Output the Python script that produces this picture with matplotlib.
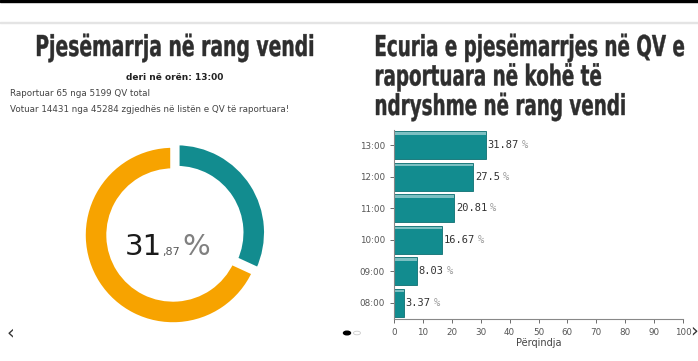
import numpy as np
import matplotlib.pyplot as plt
from matplotlib.patches import Rectangle, Circle, PathPatch
from matplotlib.textpath import TextPath
from matplotlib.font_manager import FontProperties
from matplotlib.transforms import Affine2D

hours = ['08:00', '09:00', '10:00', '11:00', '12:00', '13:00']
turnout = [3.37, 8.03, 16.67, 20.81, 27.5, 31.87]
current = 31.87
reported_qv = 65
total_qv = 5199
voted = 14431
registered = 45284

W, H = 698, 361
teal = '#128c8f'
orange = '#f7a300'
title_col = '#2e2e2e'

fig = plt.figure(figsize=(W / 100, H / 100), dpi=100)


def px(x, y):
    return x / W, 1 - y / H


def ftext(x, y, s, **kw):
    fig.text(*px(x, y), s, **kw)


# condensed heavy title text, drawn as paths so it can be squeezed like Impact
bold = FontProperties(family='DejaVu Sans', weight='bold')
cap = TextPath((0, 0), 'H', size=100, prop=bold).get_extents().height


def title(x, baseline, s, cap_px, xscale):
    tp = TextPath((0, 0), s, size=100, prop=bold)
    k = cap_px / cap
    ext = tp.get_extents()
    tr = Affine2D().translate(-ext.x0, 0).scale(k * xscale, k).translate(x, H - baseline)
    fig.add_artist(PathPatch(tp, transform=tr, facecolor=title_col, edgecolor=title_col,
                             linewidth=0.3))


def squeeze(s, width_px, cap_px):
    ext = TextPath((0, 0), s, size=100, prop=bold).get_extents()
    return width_px / (ext.width * cap_px / cap)


# page lines
fig.add_artist(Rectangle((0, 1 - 2 / H), 1, 2 / H, transform=fig.transFigure, color='black'))
fig.add_artist(Rectangle((0, 1 - 23 / H), 1, 1 / H, transform=fig.transFigure, color='#e4e4e4'))

# left panel texts
lt = 'Pjesëmarrja në rang vendi'
title(37, 56, lt, 21, squeeze(lt, 276, 21))
ftext(175, 77, 'deri në orën: 13:00', ha='center', va='center', fontsize=6.5,
      fontweight='bold', color='#222222')
ftext(10, 93, 'Raportuar %d nga %d QV total' % (reported_qv, total_qv), ha='left', va='center',
      fontsize=6.3, color='#444444')
ftext(10, 109, 'Votuar %d nga %d zgjedhës në listën e QV të raportuara!' % (voted, registered),
      ha='left', va='center', fontsize=6.3, color='#444444')

# right panel title
rt = ['Ecuria e pjesëmarrjes në QV e', 'raportuara në kohë të', 'ndryshme në rang vendi']
xs = squeeze(rt[0], 308, 21)
for i, line in enumerate(rt):
    title(376, 56 + i * 29.5, line, 21, xs)

# donut
cx, cy, rad = 173, 235, 90
half = 100
ax1 = fig.add_axes([(cx - half) / W, 1 - (cy + half) / H, 2 * half / W, 2 * half / H])
ax1.pie([current, 100 - current], colors=[teal, orange], startangle=90, counterclock=False,
        explode=[0.05, 0], wedgeprops=dict(width=0.29, edgecolor='white', linewidth=4))
lim = half / rad
ax1.set_xlim(-lim, lim)
ax1.set_ylim(-lim, lim)
ax1.set_aspect('equal')
ax1.axis('off')

whole, dec = ('%.2f' % current).split('.')
ftext(162, 255, whole, ha='right', va='baseline', fontsize=21, color='#1a1a1a')
ftext(162.5, 255, ',' + dec, ha='left', va='baseline', fontsize=8, color='#555555')
ftext(182, 255, '%', ha='left', va='baseline', fontsize=21, color='#808080')

# bar chart
ax2 = fig.add_axes([394 / W, 1 - 318.5 / H, 289 / W, 189 / H])
y = np.arange(len(hours))
ax2.barh(y, turnout, height=0.88, color=teal, edgecolor='#0d6f72', linewidth=0.6)
for yi, v in zip(y, turnout):
    ax2.barh(yi + 0.37, v, height=0.07, color='#7cc0c2', linewidth=0)
    lab = '%g' % v
    ax2.annotate(lab, (v, yi), xytext=(1.2, 0), textcoords='offset points', ha='left',
                 va='center', fontsize=7.5, family='DejaVu Sans Mono', color='#333333')
    ax2.annotate('%', (v, yi), xytext=(1.2 + len(lab) * 4.52 + 2.2, 0),
                 textcoords='offset points', ha='left', va='center', fontsize=7.5,
                 family='DejaVu Sans Mono', color='#999999')
ax2.set_xlim(0, 100)
ax2.set_ylim(-0.5, 5.5)
ax2.set_yticks(y)
ax2.set_yticklabels(hours)
ax2.set_xticks(np.arange(0, 101, 10))
ax2.tick_params(labelsize=6.3, colors='#555555', length=3, width=0.6)
for s in ['top', 'right']:
    ax2.spines[s].set_visible(False)
for s in ['left', 'bottom']:
    ax2.spines[s].set_color('#888888')
    ax2.spines[s].set_linewidth(0.8)
ax2.set_xlabel('Përqindja', fontsize=7, color='#444444', labelpad=1)

# carousel controls
ftext(10, 333, '‹', ha='center', va='center', fontsize=14, color='#333333')
ftext(694, 331, '›', ha='center', va='center', fontsize=14, color='#333333')
fig.add_artist(Circle(px(347, 333), 3.5 / W, transform=fig.transFigure, color='black'))
fig.add_artist(Circle(px(357, 333), 3.5 / W, transform=fig.transFigure, facecolor='white',
                      edgecolor='#cccccc', linewidth=0.6))

fig.savefig('out.png', dpi=100)
